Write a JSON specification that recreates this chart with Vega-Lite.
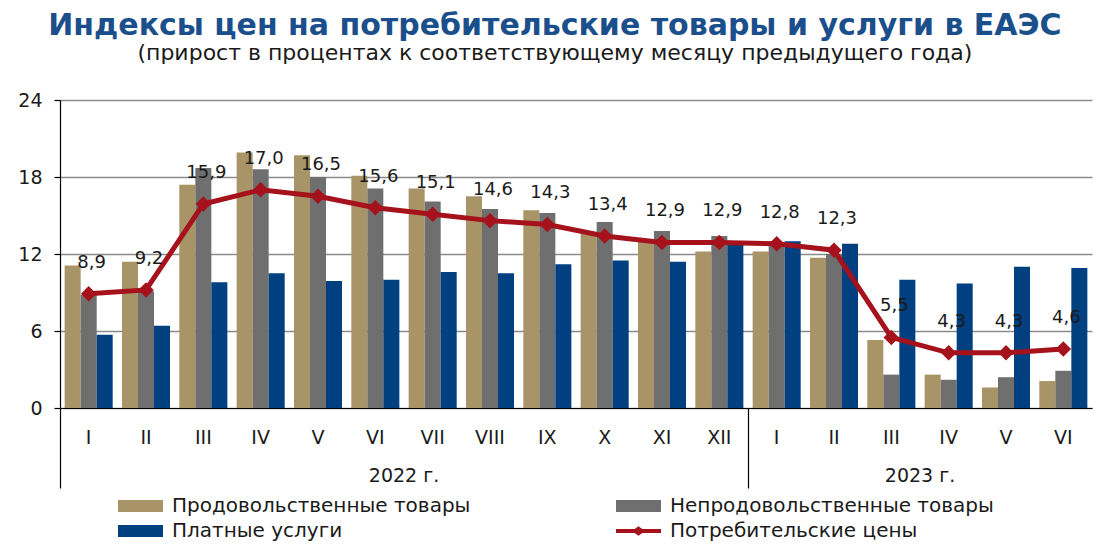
{
  "$schema": "https://vega.github.io/schema/vega-lite/v6.json",
  "width": 1032,
  "height": 308,
  "autosize": "none",
  "padding": {"left": 60, "top": 100, "right": 28, "bottom": 144},
  "background": "white",
  "config": {
    "font": "DejaVu Sans",
    "view": {"stroke": null},
    "locale": {"number": {"decimal": ",", "thousands": " ", "grouping": [3], "currency": ["", ""]}}
  },
  "title": {
    "text": "Индексы цен на потребительские товары и услуги в ЕАЭС",
    "subtitle": "(прирост в процентах к соответствующему месяцу предыдущего года)",
    "anchor": "middle",
    "frame": "bounds",
    "font": "DejaVu Sans",
    "fontSize": 30,
    "fontWeight": "bold",
    "color": "#1B4F8C",
    "subtitleFont": "DejaVu Sans",
    "subtitleFontSize": 22,
    "subtitleColor": "#1a1a1a",
    "subtitlePadding": 2,
    "offset": 27
  },
  "data": {
    "values": [
      {"key": "2022 I", "food": 11.1, "nonfood": 8.8, "services": 5.7, "cpi": 8.9},
      {"key": "2022 II", "food": 11.4, "nonfood": 9.1, "services": 6.4, "cpi": 9.2},
      {"key": "2022 III", "food": 17.4, "nonfood": 18.7, "services": 9.8, "cpi": 15.9},
      {"key": "2022 IV", "food": 19.9, "nonfood": 18.6, "services": 10.5, "cpi": 17.0},
      {"key": "2022 V", "food": 19.7, "nonfood": 18.0, "services": 9.9, "cpi": 16.5},
      {"key": "2022 VI", "food": 18.1, "nonfood": 17.1, "services": 10.0, "cpi": 15.6},
      {"key": "2022 VII", "food": 17.1, "nonfood": 16.1, "services": 10.6, "cpi": 15.1},
      {"key": "2022 VIII", "food": 16.5, "nonfood": 15.5, "services": 10.5, "cpi": 14.6},
      {"key": "2022 IX", "food": 15.4, "nonfood": 15.2, "services": 11.2, "cpi": 14.3},
      {"key": "2022 X", "food": 13.6, "nonfood": 14.5, "services": 11.5, "cpi": 13.4},
      {"key": "2022 XI", "food": 13.0, "nonfood": 13.8, "services": 11.4, "cpi": 12.9},
      {"key": "2022 XII", "food": 12.2, "nonfood": 13.4, "services": 12.7, "cpi": 12.9},
      {"key": "2023 I", "food": 12.2, "nonfood": 12.9, "services": 13.0, "cpi": 12.8},
      {"key": "2023 II", "food": 11.7, "nonfood": 12.0, "services": 12.8, "cpi": 12.3},
      {"key": "2023 III", "food": 5.3, "nonfood": 2.6, "services": 10.0, "cpi": 5.5},
      {"key": "2023 IV", "food": 2.6, "nonfood": 2.2, "services": 9.7, "cpi": 4.3},
      {"key": "2023 V", "food": 1.6, "nonfood": 2.4, "services": 11.0, "cpi": 4.3},
      {"key": "2023 VI", "food": 2.1, "nonfood": 2.9, "services": 10.9, "cpi": 4.6}
    ]
  },
  "resolve": {"axis": {"x": "independent"}},
  "layer": [
    {
      "transform": [{"fold": ["food", "nonfood", "services"], "as": ["series", "value"]}],
      "mark": {"type": "bar"},
      "encoding": {
        "x": {
          "field": "key", "type": "nominal", "sort": null,
          "scale": {"paddingInner": 0, "paddingOuter": 0},
          "axis": {
            "title": null, "orient": "bottom", "offset": 0,
            "labelExpr": "split(datum.value, ' ')[1]",
            "labelAngle": 0, "labelFontSize": 19, "labelColor": "#1a1a1a",
            "labelPadding": 20, "ticks": false, "tickSize": 0,
            "domain": true, "domainColor": "#000000", "domainWidth": 1.2,
            "grid": false
          }
        },
        "xOffset": {
          "field": "series", "type": "nominal",
          "sort": ["food", "nonfood", "services"],
          "scale": {"paddingInner": 0, "paddingOuter": 0.29}
        },
        "y": {
          "field": "value", "type": "quantitative",
          "scale": {"domain": [0, 24], "nice": false},
          "axis": {
            "title": null, "values": [0, 6, 12, 18, 24],
            "labelFontSize": 19, "labelColor": "#1a1a1a", "labelPadding": 12,
            "tickSize": 6, "tickColor": "#000000", "tickWidth": 1.2,
            "domainColor": "#000000", "domainWidth": 1.2,
            "grid": true, "gridColor": "#8a8a8a", "gridWidth": 1.3
          }
        },
        "color": {
          "field": "series", "type": "nominal",
          "scale": {
            "domain": ["food", "nonfood", "services", "cpi"],
            "range": ["#A89466", "#6F6F6F", "#003F80", "#A5121B"]
          },
          "legend": {
            "title": null, "orient": "none", "legendX": 54, "legendY": 396,
            "direction": "horizontal", "columns": 2,
            "columnPadding": 141, "rowPadding": 5,
            "symbolSize": 144, "labelOffset": 38,
            "labelFontSize": 20, "labelColor": "#1a1a1a", "labelLimit": 500,
            "labelExpr": "datum.value === 'food' ? 'Продовольственные товары' : datum.value === 'nonfood' ? 'Непродовольственные товары' : datum.value === 'services' ? 'Платные услуги' : 'Потребительские цены'",
            "encode": {
              "symbols": {
                "update": {
                  "shape": {"signal": "datum.value === 'cpi' ? 'M-1,-0.35H6.5V0.35H-1Z M2.75,-0.8L3.85,0L2.75,0.8L1.65,0Z' : 'M-1,-1H6.5V1H-1Z'"},
                  "fill": {"scale": "color", "field": "value"},
                  "stroke": {"value": "transparent"},
                  "opacity": {"value": 1}
                }
              }
            }
          }
        }
      }
    },
    {
      "mark": {"type": "line", "color": "#A5121B", "strokeWidth": 5},
      "encoding": {
        "x": {
          "field": "key", "type": "nominal", "sort": null,
          "axis": {
            "title": null, "orient": "bottom", "offset": 0,
            "values": ["2022 I", "2023 I"], "bandPosition": 0,
            "labels": false, "domain": false, "grid": false,
            "ticks": true, "tickSize": 80, "tickColor": "#000000", "tickWidth": 1.2
          }
        },
        "y": {"field": "cpi", "type": "quantitative"}
      }
    },
    {
      "mark": {"type": "point", "shape": "diamond", "filled": true, "size": 240, "color": "#A5121B", "opacity": 1},
      "encoding": {
        "x": {"field": "key", "type": "nominal", "sort": null, "axis": null},
        "y": {"field": "cpi", "type": "quantitative"}
      }
    },
    {
      "mark": {"type": "text", "fontSize": 18, "color": "#1a1a1a", "dy": -31, "dx": 3, "baseline": "middle"},
      "encoding": {
        "x": {
          "field": "key", "type": "nominal", "sort": null,
          "axis": {
            "title": null, "orient": "bottom", "offset": 0,
            "values": ["2022 VI", "2023 III"], "labelOffset": 28.67, "labelAngle": 0,
            "labelExpr": "split(datum.value, ' ')[0] + ' г.'",
            "labelFontSize": 19, "labelColor": "#1a1a1a", "labelPadding": 58,
            "ticks": false, "tickSize": 0, "domain": false, "grid": false
          }
        },
        "y": {"field": "cpi", "type": "quantitative"},
        "text": {"field": "cpi", "type": "quantitative", "format": ".1f"}
      }
    }
  ]
}
